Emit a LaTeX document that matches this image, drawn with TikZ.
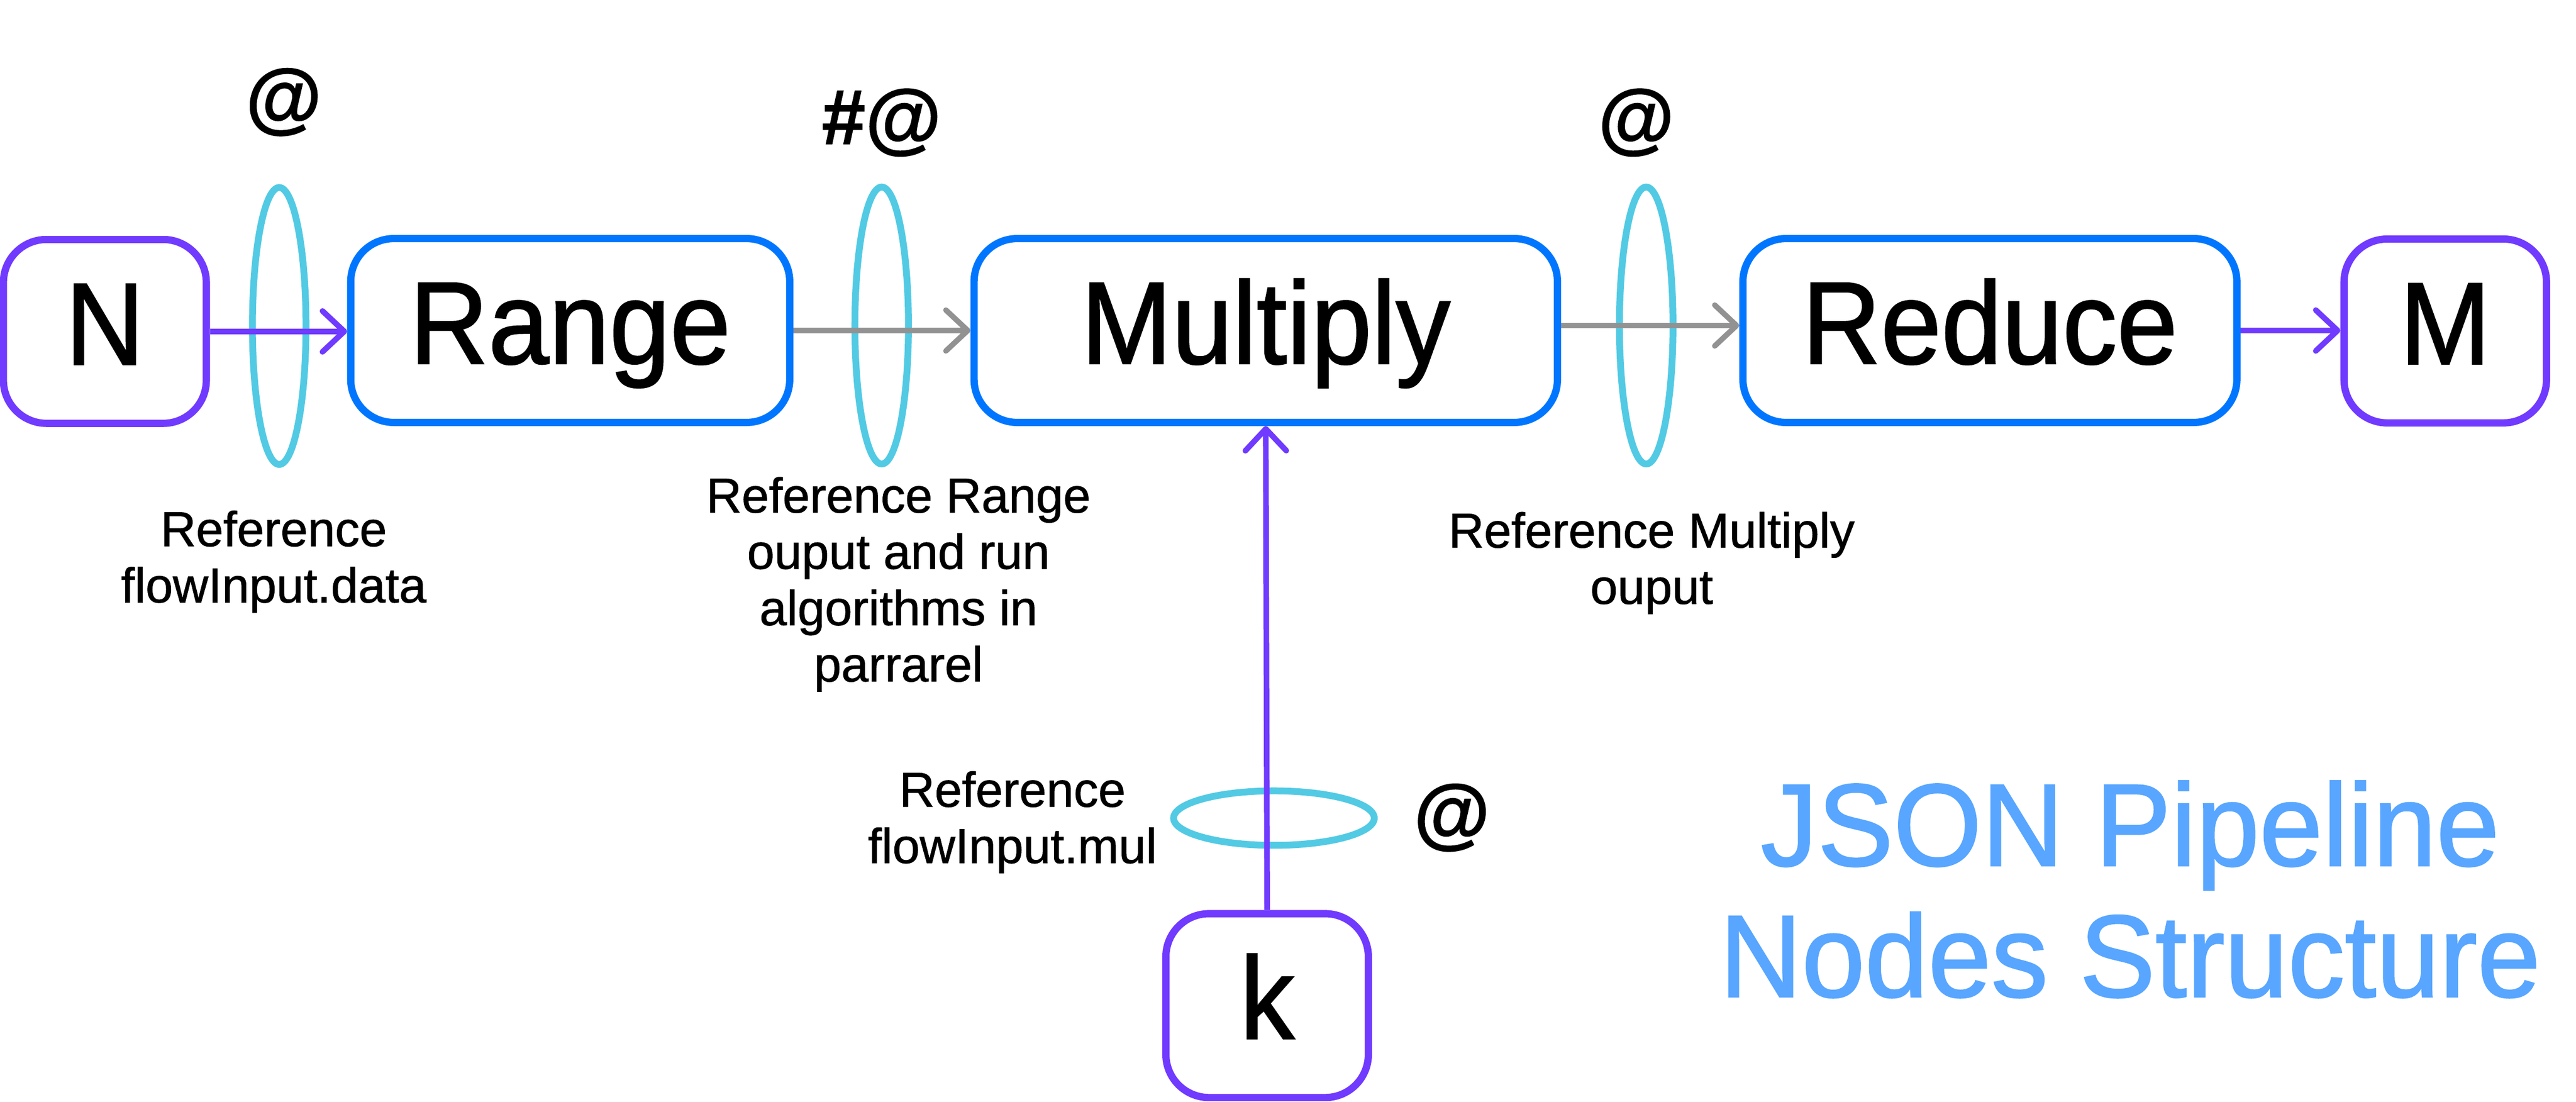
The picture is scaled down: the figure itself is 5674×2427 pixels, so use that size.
\documentclass[tikz,border=0pt]{standalone}
\usepackage{fontspec}
\setmainfont{Liberation Sans}[FakeBold=1]
\newfontfamily\boxfont{Liberation Sans}[FakeStretch=0.93,FakeBold=1.2]
\newfontfamily\titlefont{Liberation Sans}[FakeStretch=0.97,FakeBold=1.2]
\usetikzlibrary{arrows.meta,shapes.geometric,calc}
\definecolor{cpurple}{RGB}{112,58,255}
\definecolor{cblue}{RGB}{0,118,255}
\definecolor{ccyan}{RGB}{82,202,228}
\definecolor{cgray}{RGB}{146,146,146}
\definecolor{ctitle}{RGB}{88,166,255}
\begin{document}
\begin{tikzpicture}[x=0.25pt,y=-0.25pt,
  box/.style={draw, line width=4pt, rounded corners=23.75pt, minimum height=101.25pt,
    inner sep=0pt, text height=36.5pt, text depth=0pt,
    font=\boxfont\fontsize{64.5pt}{70pt}\selectfont},
  pbox/.style={box, draw=cpurple},
  bbox/.style={box, draw=cblue},
  ring/.style={draw=ccyan, line width=3.75pt, ellipse, inner sep=0pt},
  parrow/.style={draw=cpurple, line width=3.1pt, -{Straight Barb[length=12pt,width=22.5pt,round]}},
  garrow/.style={draw=cgray, line width=3pt, -{Straight Barb[length=12pt,width=22.5pt,round]}},
  lbl/.style={font=\fontsize{27pt}{31pt}\selectfont, align=center, anchor=north, inner sep=0pt},
  atsign/.style={font=\bfseries\fontsize{43pt}{50pt}\selectfont, inner sep=0pt},
  titletext/.style={font=\titlefont\fontsize{64.5pt}{72.25pt}\selectfont, text=ctitle, align=center, anchor=north, inner sep=0pt}
]
\useasboundingbox (0,0) rectangle (5674,2427);

% ellipses (drawn first, below the connectors)
\node[ring, minimum width=29.5pt, minimum height=152.5pt] (E1) at (615,718) {};
\node[ring, minimum width=29.5pt, minimum height=152.5pt] (E2) at (1942,717) {};
\node[ring, minimum width=29.5pt, minimum height=152.5pt] (E3) at (3626,717) {};
\node[ring, minimum width=110.5pt, minimum height=30pt] (E4) at (2806,1802) {};

% boxes
\node[pbox, minimum width=111.75pt] (N) at (231,730) {N};
\node[bbox, minimum width=241.75pt] (Range) at (1256,728) {Range};
\node[bbox, minimum width=321.25pt] (Multiply) at (2788,728) {Multiply};
\node[bbox, minimum width=272pt] (Reduce) at (4383,728) {Reduce};
\node[pbox, minimum width=111.5pt] (M) at (5386,729) {M};
\node[pbox, minimum width=111.5pt] (k) at (2791,2215) {k};

% connectors
\draw[parrow] (N.east) -- (N.east -| Range.west);
\draw[garrow] (Range.east) -- (Multiply.west);
\draw[garrow] (E3.center -| Multiply.east) -- (E3.center -| Reduce.west);
\draw[parrow] (Reduce.east) -- (Reduce.east -| M.west);
\draw[parrow] (k.north) -- (Multiply.south);

% @ markers
\node[atsign] (a1) at (625,225) {@};
\node[atsign] (a2) at (1942,270) {\#@};
\node[atsign] (a3) at (3604,270) {@};
\node[atsign] (a4) at (3198,1801) {@};

% labels
\node[lbl] (t1) at (603,1124) {Reference\\flowInput.data};
\node[lbl] (t2) at (1979,1050) {Reference Range\\ouput and run\\algorithms in\\parrarel};
\node[lbl] (t3) at (3638,1127) {Reference Multiply\\ouput};
\node[lbl] (t4) at (2230,1698) {Reference\\flowInput.mul};

% title
\node[titletext] (title) at (4692,1719) {JSON Pipeline\\Nodes Structure};
\end{tikzpicture}
\end{document}
